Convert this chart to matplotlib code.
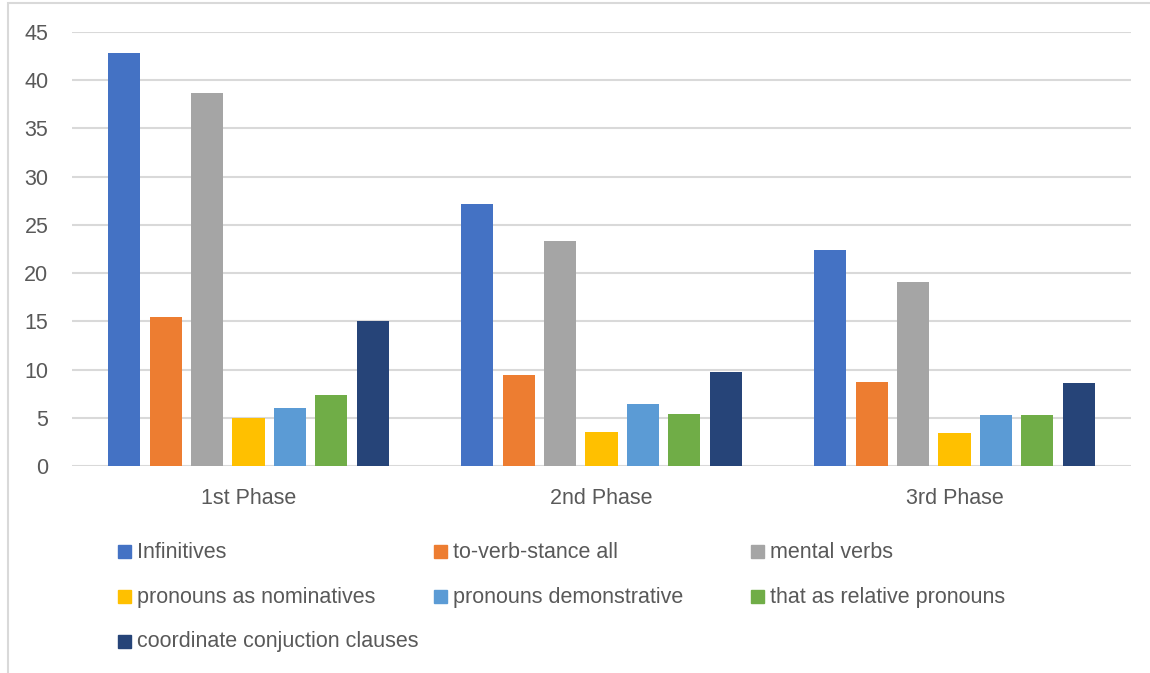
import matplotlib
matplotlib.use("Agg")
import matplotlib.pyplot as plt
from matplotlib.patches import Rectangle
import numpy as np

# --- dados ---
phases = ["1st Phase", "2nd Phase", "3rd Phase"]
series_names = [
    "Infinitives",
    "to-verb-stance all",
    "mental verbs",
    "pronouns as nominatives",
    "pronouns demonstrative",
    "that as relative pronouns",
    "coordinate conjuction clauses",
]
infinitives = [42.8, 27.2, 22.4]
to_verb_stance = [15.4, 9.4, 8.7]
mental_verbs = [38.7, 23.3, 19.1]
pron_nominatives = [5.0, 3.5, 3.4]
pron_demonstrative = [6.0, 6.4, 5.3]
that_relative = [7.4, 5.4, 5.3]
coord_clauses = [15.0, 9.7, 8.6]

colors = ["#4472C4", "#ED7D31", "#A5A5A5", "#FFC000", "#5B9BD5", "#70AD47", "#264478"]
text_color = "#595959"
grid_color = "#D9D9D9"

plt.rcParams["font.family"] = ["Liberation Sans", "DejaVu Sans"]
fs = 15.5

W, H = 1150, 673
fig = plt.figure(figsize=(W / 100, H / 100), dpi=100)
ax = fig.add_axes([72 / W, 1 - 466 / H, (1131 - 72) / W, (466 - 32) / H])

values = [infinitives, to_verb_stance, mental_verbs, pron_nominatives,
          pron_demonstrative, that_relative, coord_clauses]
x = np.arange(len(phases))
slot = 0.1173
width = 0.0915
n = len(values)
for i, (vals, col) in enumerate(zip(values, colors)):
    offs = (i - (n - 1) / 2) * slot
    ax.bar(x + offs, vals, width=width, color=col, zorder=3)

ax.set_xlim(-0.5, len(phases) - 0.5)
ax.set_ylim(0, 45)
ax.set_yticks(np.arange(0, 46, 5))
ax.set_xticks(x)
ax.set_xticklabels(phases)
ax.yaxis.grid(True, color=grid_color, linewidth=1.5, zorder=0)
ax.tick_params(axis="both", length=0, labelsize=fs, colors=text_color)
ax.tick_params(axis="y", pad=17)
ax.tick_params(axis="x", pad=16)
for s in ax.spines.values():
    s.set_visible(False)

# legenda manual (linhas como no Excel)
col_x = [118, 434, 751]
row_y = [551, 596, 641]
for k, (name, col) in enumerate(zip(series_names, colors)):
    r, c = divmod(k, 3)
    mx, my = col_x[c], row_y[r]
    fig.patches.append(Rectangle((mx / W, 1 - (my + 6.5) / H), 13 / W, 13 / H,
                                 transform=fig.transFigure, color=col))
    fig.text((mx + 19) / W, 1 - (my + 6.5) / H, name, fontsize=fs, color=text_color,
             va="baseline", ha="left")

# moldura do grafico
fig.patches.append(Rectangle((8 / W, -0.05), 1.2, 1 - 3 / H + 0.05,
                             transform=fig.transFigure, fill=False,
                             edgecolor=grid_color, linewidth=1.5))

fig.savefig("out.png", dpi=100)
